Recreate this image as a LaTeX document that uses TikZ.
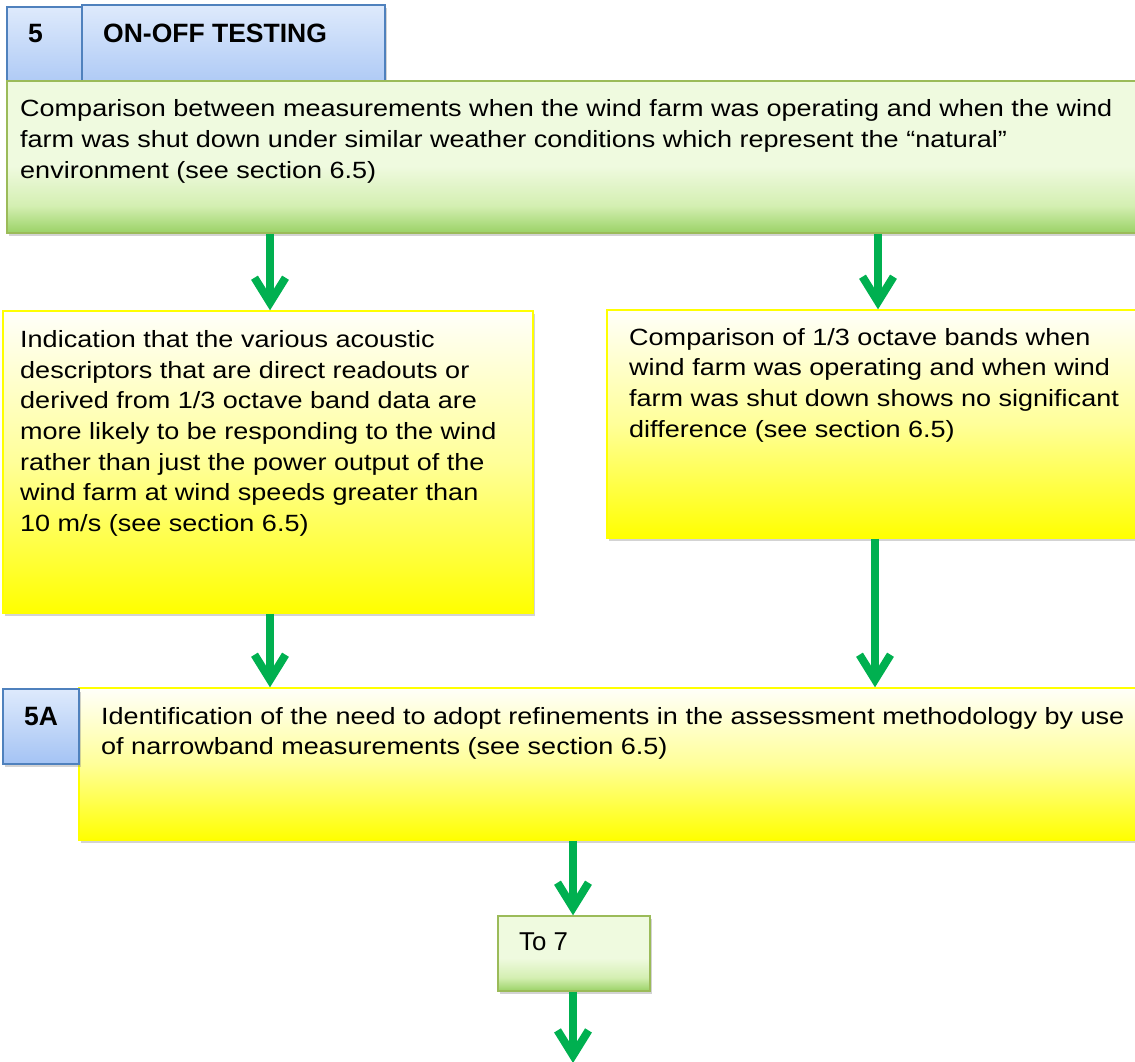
\documentclass[tikz,border=0pt]{standalone}
\usepackage{fontspec}
\setmainfont{Liberation Sans}
\newfontfamily\bodyfont[FakeStretch=1.15]{Liberation Sans}
\usetikzlibrary{arrows.meta,shadows}

\definecolor{gtop}{HTML}{EFFADF}
\definecolor{gmid}{HTML}{D4EFB2}
\definecolor{gbot}{HTML}{9AD266}
\definecolor{gborder}{HTML}{9BBB59}
\definecolor{ytop}{HTML}{FFFFFA}
\definecolor{ymid}{HTML}{FFFF99}
\definecolor{ybot}{HTML}{FFFF00}
\definecolor{btop}{HTML}{DEEAFC}
\definecolor{bbot}{HTML}{A4C3F4}
\definecolor{bborder}{HTML}{4F81BD}
\definecolor{arrowgreen}{HTML}{00B050}

\pgfdeclareverticalshading{greenshade}{100bp}{color(0bp)=(gbot); color(25bp)=(gbot); color(34bp)=(gmid); color(47bp)=(gtop); color(75bp)=(gtop); color(100bp)=(gtop)}
\pgfdeclareverticalshading{yellowshade}{100bp}{color(0bp)=(ybot); color(25bp)=(ybot); color(50bp)=(ymid); color(75bp)=(ytop); color(100bp)=(ytop)}
\pgfdeclareverticalshading{blueshade}{100bp}{color(0bp)=(bbot); color(25bp)=(bbot); color(75bp)=(btop); color(100bp)=(btop)}

\tikzset{
  box/.style={inner sep=0pt, line width=1.4pt,
    drop shadow={shadow xshift=2pt,shadow yshift=-3pt,opacity=0.35}},
  greenbox/.style={box, shading=greenshade, draw=gborder},
  yellowbox/.style={box, shading=yellowshade, draw=ybot},
  bluebox/.style={box, shading=blueshade, draw=bborder},
  flow/.style={draw=arrowgreen, line width=8pt, -{Straight Barb[length=25pt,width=31pt]}},
  bodytext/.style={anchor=base west, inner sep=0pt, font=\bodyfont\fontsize{23.5}{30.7}\selectfont},
  headtext/.style={anchor=base west, inner sep=0pt, font=\bfseries\fontsize{26.5}{30}\selectfont},
  plaintext/.style={anchor=base west, inner sep=0pt, font=\fontsize{25.8}{30}\selectfont},
}

\begin{document}
\begin{tikzpicture}[x=1pt,y=-1pt]
\useasboundingbox (0,0) rectangle (1135,1061);

% header boxes
\node[bluebox, minimum width=75pt, minimum height=93pt] (b5) at (44.5,53.5) {};
\node[bluebox, minimum width=303pt, minimum height=95pt] (bhead) at (233.5,52.5) {};
% main green box
\node[greenbox, minimum width=1138pt, minimum height=152pt] (g1) at (576,157) {};
% yellow boxes
\node[yellowbox, minimum width=530pt, minimum height=302pt] (yL) at (268,462) {};
\node[yellowbox, minimum width=538pt, minimum height=228pt] (yR) at (876,424) {};
\node[yellowbox, minimum width=1066pt, minimum height=152pt] (y5A) at (612,764) {};
\node[bluebox, minimum width=76pt, minimum height=75pt] (b5A) at (41,726.5) {};
% to 7
\node[greenbox, minimum width=152pt, minimum height=75pt] (to7) at (574,953.5) {};

% texts
\node[headtext] (t5) at (28,42.3) {5};
\node[headtext] (thead) at (103,42.3) {ON-OFF TESTING};
\node[bodytext] (tg) at (20,116.7) {\parbox[t]{1110pt}{\raggedright
Comparison between measurements when the wind farm was operating and when the wind\\
farm was shut down under similar weather conditions which represent the “natural”\\
environment (see section 6.5)}};
\node[bodytext] (tL) at (20,347.3) {\parbox[t]{510pt}{\raggedright
Indication that the various acoustic\\
descriptors that are direct readouts or\\
derived from 1/3 octave band data are\\
more likely to be responding to the wind\\
rather than just the power output of the\\
wind farm at wind speeds greater than\\
10 m/s (see section 6.5)}};
\node[bodytext] (tR) at (629,345) {\parbox[t]{500pt}{\raggedright
Comparison of 1/3 octave bands when\\
wind farm was operating and when wind\\
farm was shut down shows no significant\\
difference (see section 6.5)}};
\node[headtext] (t5A) at (24,725) {5A};
\node[bodytext] (tA) at (101,724) {\parbox[t]{1030pt}{\raggedright
Identification of the need to adopt refinements in the assessment methodology by use\\
of narrowband measurements (see section 6.5)}};
\node[plaintext] (t7) at (519,950) {To 7};

% connectors
\coordinate (out7) at (573,1063);
\draw[flow] (270,0 |- g1.south) -- (270,0 |- yL.north);
\draw[flow] (878,0 |- g1.south) -- (878,0 |- yR.north);
\draw[flow] (270,0 |- yL.south) -- (270,0 |- y5A.north);
\draw[flow] (875,0 |- yR.south) -- (875,0 |- y5A.north);
\draw[flow] (573,0 |- y5A.south) -- (573,0 |- to7.north);
\draw[flow] (573,0 |- to7.south) -- (out7);
\end{tikzpicture}
\end{document}
